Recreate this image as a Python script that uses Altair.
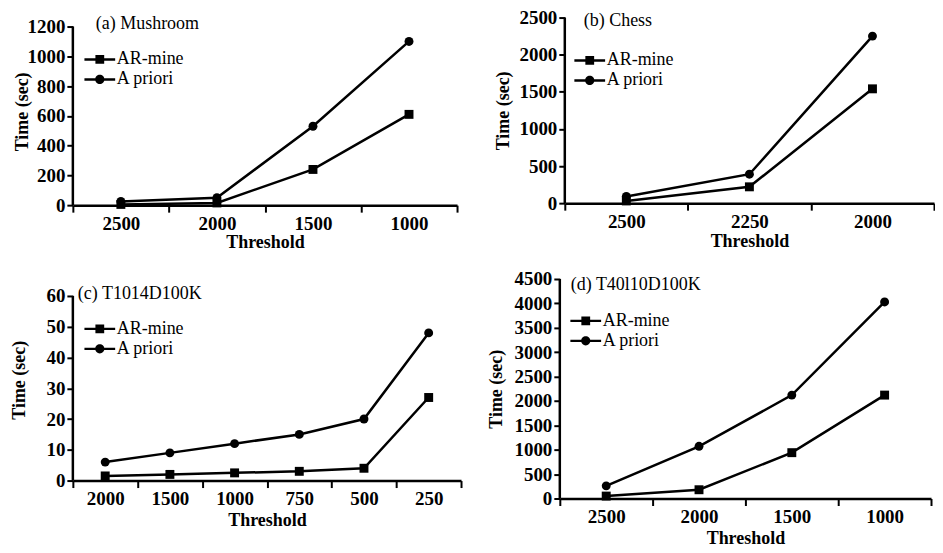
import altair as alt
import pandas as pd

SERIF = "Liberation Serif"
series_names = ["AR-mine", "A priori"]

a_thresholds = ["2500", "2000", "1500", "1000"]
a_armine = [5, 15, 240, 610]
a_apriori = [25, 50, 530, 1100]
a_ticks = [0, 200, 400, 600, 800, 1000, 1200]

b_thresholds = ["2500", "2250", "2000"]
b_armine = [30, 220, 1540]
b_apriori = [90, 390, 2250]
b_ticks = [0, 500, 1000, 1500, 2000, 2500]

c_thresholds = ["2000", "1500", "1000", "750", "500", "250"]
c_armine = [1.5, 2, 2.5, 3, 4, 27]
c_apriori = [6, 9, 12, 15, 20, 48]
c_ticks = [0, 10, 20, 30, 40, 50, 60]

d_thresholds = ["2500", "2000", "1500", "1000"]
d_armine = [50, 180, 940, 2120]
d_apriori = [260, 1070, 2120, 4030]
d_ticks = [0, 500, 1000, 1500, 2000, 2500, 3000, 3500, 4000, 4500]

panel_titles = ["(a) Mushroom", "(b) Chess", "(c) T1014D100K", "(d) T40l10D100K"]

# legend symbols: line segment + marker (custom SVG paths)
SYM_SQUARE = "M-1.4,-0.11H1.4V0.11H-1.4Z M-0.4,-0.4H0.4V0.4H-0.4Z"
SYM_CIRCLE = "M-1.4,-0.11H1.4V0.11H-1.4Z M-0.42,0A0.42,0.42 0 1,1 0.42,0A0.42,0.42 0 1,1 -0.42,0Z"


def panel(thresholds, armine, apriori, ticks, title, width, height, ytop,
          ext, x_title_pad, legend_x, legend_y, title_x, title_y):
    n = len(thresholds)
    df = pd.DataFrame({
        "Threshold": thresholds * 2,
        "Time": armine + apriori,
        "Series": [series_names[0]] * n + [series_names[1]] * n,
    })
    xenc = alt.X(
        "Threshold:O", sort=thresholds,
        scale=alt.Scale(type="band", paddingInner=0, paddingOuter=0),
        axis=alt.Axis(title="Threshold", labelAngle=0, tickBand="extent", tickSize=7,
                      labelPadding=2, titlePadding=x_title_pad),
    )
    yscale = alt.Scale(domain=[0, ytop], nice=False, zero=True)
    yaxis = alt.Axis(title="Time (sec)", values=ticks, format="d", domain=False,
                     tickSize=6, labelPadding=2, minExtent=ext, maxExtent=ext,
                     titlePadding=2, labelOverlap=False, labelBound=False)
    yenc = alt.Y("Time:Q", scale=yscale, axis=yaxis)
    base = alt.Chart(df)
    lines = base.mark_line(color="black", strokeWidth=2.5).encode(
        x=xenc, y=yenc, detail="Series:N")
    points = base.mark_point(filled=True, color="black", opacity=1, size=80).encode(
        x=xenc, y=yenc,
        shape=alt.Shape("Series:N",
                        scale=alt.Scale(domain=series_names, range=["square", "circle"]),
                        legend=None),
    )
    axis_line = alt.Chart(pd.DataFrame({"v": [0]})).mark_rule(
        color="black", strokeWidth=2.5).encode(
        x=alt.value(0),
        y=alt.Y(datum=0, type="quantitative", scale=yscale, axis=yaxis),
        y2=alt.Y2(datum=ticks[-1]))
    ttl = alt.Chart(pd.DataFrame({"t": [title]})).mark_text(
        align="left", baseline="middle", font=SERIF, fontSize=18, color="black").encode(
        text="t:N", x=alt.value(title_x), y=alt.value(title_y))
    leg = alt.Chart(df).transform_filter("false").mark_point(
        filled=True, color="black").encode(
        shape=alt.Shape(
            "Series:N",
            scale=alt.Scale(domain=series_names, range=[SYM_SQUARE, SYM_CIRCLE]),
            legend=alt.Legend(
                title=None, orient="none", legendX=legend_x, legendY=legend_y,
                symbolSize=484, symbolFillColor="black", symbolStrokeColor="black",
                symbolStrokeWidth=0, symbolOpacity=1, labelFont=SERIF,
                labelFontSize=18, labelColor="black", labelOffset=6,
                rowPadding=0, padding=0, labelLimit=0),
        ))
    return alt.layer(lines, points, axis_line, ttl, leg).resolve_scale(
        shape="independent").properties(width=width, height=height)


pa = panel(a_thresholds, a_armine, a_apriori, a_ticks, panel_titles[0], 385, 188,
           1200 * 188 / 179, 39, 0, 16, 31, 23, 6)
pb = panel(b_thresholds, b_armine, b_apriori, b_ticks, panel_titles[1], 370, 186,
           2500, 50, 1, 14, 32, 19, 3)
pc = panel(c_thresholds, c_armine, c_apriori, c_ticks, panel_titles[2], 389, 202,
           60 * 202 / 185, 42, 3, 16, 39, 5, 15)
pd_ = panel(d_thresholds, d_armine, d_apriori, d_ticks, panel_titles[3], 372, 220,
            4500, 52, 3, 15, 31, 11, 6)

row1 = alt.hconcat(pa, pb, spacing=108, bounds="flush")
row2 = alt.hconcat(pc, pd_, spacing=99, bounds="flush")

chart = alt.vconcat(row1, row2, spacing=19).properties(
    padding={"left": 3, "top": 0, "right": 0, "bottom": 0}
).configure_view(stroke=None).configure_axis(
    labelFont=SERIF, labelFontSize=19, labelFontWeight="bold", labelColor="black",
    titleFont=SERIF, titleFontSize=18, titleFontWeight="bold", titleColor="black",
    domainColor="black", domainWidth=2.5, tickColor="black", tickWidth=2, grid=False,
)

chart.save("out.html", embed_options={"renderer": "svg", "actions": False})
